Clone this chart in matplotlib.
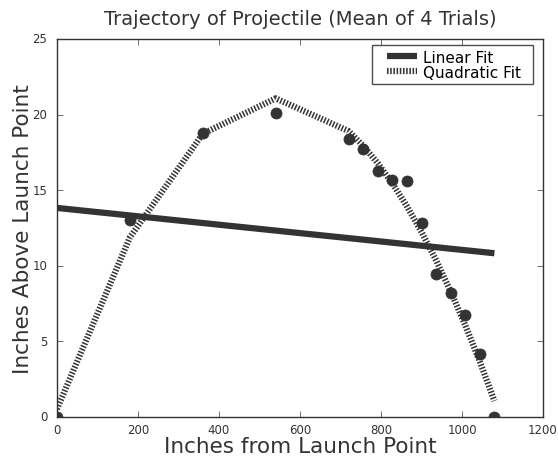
import numpy as np
import matplotlib
matplotlib.use('Agg')
import matplotlib.pyplot as plt
from matplotlib.legend_handler import HandlerLine2D

# mean horizontal distance / height over 4 trials (inches)
distances = [0, 180, 360, 540, 720, 756, 792, 828, 864, 900, 936, 972, 1008, 1044, 1080]
heights = [0.0, 13.0, 18.8, 20.1, 18.4, 17.7, 16.3, 15.7, 15.6, 12.8, 9.45, 8.2, 6.75, 4.15, 0.0]

x = np.array(distances, dtype=float)
y = np.array(heights)

lin = np.polyval(np.polyfit(x, y, 1), x)
quad = np.polyval(np.polyfit(x, y, 2), x)


class InsetLineHandler(HandlerLine2D):
    """Legend line that starts a bit to the right of the handle box."""

    def create_artists(self, legend, orig_handle, xdescent, ydescent,
                       width, height, fontsize, trans):
        arts = super().create_artists(legend, orig_handle, xdescent, ydescent,
                                      width, height, fontsize, trans)
        inset = 0.7 * fontsize
        for a in arts:
            xd = np.asarray(a.get_xdata(), dtype=float)
            if xd.size == 2:
                a.set_xdata([xd[0] + inset, xd[1]])
        return arts


plt.style.use('classic')
plt.rcParams['font.family'] = 'DejaVu Sans'
plt.rcParams['lines.scale_dashes'] = False

fig = plt.figure(figsize=(5.58, 4.6), dpi=100, facecolor='white')
ax = fig.add_axes([57 / 558, 42 / 460, 486 / 558, 378 / 460])

ax.plot(x, y, 'o', color='0.2', markersize=8, markeredgecolor='0.2')
ax.plot(x, lin, '-', color='0.2', linewidth=4.5, solid_capstyle='butt', label='Linear Fit')
ax.plot(x, quad, color='0.2', linewidth=4.5, dashes=(1.1, 1.2),
        dash_capstyle='butt', label='Quadratic Fit')

ax.set_xlim(0, 1200)
ax.set_ylim(0, 25)
ax.tick_params(labelsize=8.5, colors='0.2')
ax.tick_params(axis='x', pad=4)
ax.tick_params(axis='y', pad=7)
for s in ax.spines.values():
    s.set_color('0.2')

ax.set_title('Trajectory of Projectile (Mean of 4 Trials)', fontsize=14, color='0.2', pad=11)
ax.set_xlabel('Inches from Launch Point', fontsize=15.5, color='0.2', labelpad=0)
ax.set_ylabel('Inches Above Launch Point', fontsize=15.5, color='0.2', labelpad=-0.5)

line_handler = InsetLineHandler(numpoints=2, marker_pad=0)
leg = ax.legend(loc='upper right', bbox_to_anchor=(0.648, 0.5, 0.331, 0.484),
                mode='expand', borderaxespad=0, fontsize=11, handlelength=2.64,
                borderpad=0.3, labelspacing=0.0, handletextpad=0.4,
                handler_map={ax.lines[1]: line_handler, ax.lines[2]: line_handler})
leg.get_frame().set_edgecolor('0.3')

fig.savefig('out.png', dpi=100, facecolor='white')
